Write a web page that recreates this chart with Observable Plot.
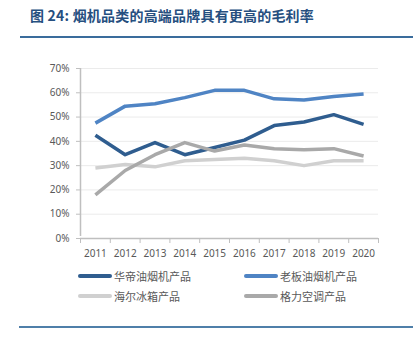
<!DOCTYPE html>
<html>
<head>
<meta charset="utf-8">
<script src="https://cdn.jsdelivr.net/npm/d3@7"></script>
<script src="https://cdn.jsdelivr.net/npm/@observablehq/plot@0.6"></script>
<style>
  html, body { margin: 0; padding: 0; background: #fff; }
  #wrap { position: relative; width: 420px; height: 353px; overflow: hidden; font-family: "Noto Sans CJK SC", "Noto Sans", sans-serif; }
  #title { position: absolute; left: 30px; top: 5px; font-size: 14px; font-weight: bold; color: #264f7f; white-space: nowrap; letter-spacing: 0.2px; }
  #rule1 { position: absolute; left: 20px; top: 36px; width: 393px; height: 2px; background: #3a6c9c; }
  #rule2 { position: absolute; left: 19px; top: 326px; width: 394px; height: 2px; background: #4f7fa9; }
  #chart { position: absolute; left: 0; top: 40px; }
  .leg { position: absolute; font-size: 11px; color: #595959; display: flex; align-items: center; white-space: nowrap; }
  .sw { display: inline-block; width: 34px; height: 4px; border-radius: 2px; margin-right: 2px; }
</style>
</head>
<body>
<div id="wrap">
  <div id="title">图 24: 烟机品类的高端品牌具有更高的毛利率</div>
  <div id="rule1"></div>
  <div id="chart"></div>
  <div id="legend"></div>
  <div id="rule2"></div>
</div>
<script>
const years = [2011, 2012, 2013, 2014, 2015, 2016, 2017, 2018, 2019, 2020];
const seriesNames = ["华帝油烟机产品", "老板油烟机产品", "海尔冰箱产品", "格力空调产品"];
const vatti = [42.5, 34.5, 39.5, 34.5, 37.5, 40.5, 46.5, 48, 51, 47];
const robam = [47.5, 54.5, 55.5, 58, 61, 61, 57.5, 57, 58.5, 59.5];
const haier = [29, 30.5, 29.5, 32, 32.5, 33, 32, 30, 32, 32];
const gree = [18, 28, 34.5, 39.5, 36, 38.5, 37, 36.5, 37, 34];
const yTicks = [0, 10, 20, 30, 40, 50, 60, 70];
const colors = ["#2f5d8f", "#4f84c4", "#d0d0d0", "#a9a9a9"];

const seriesValues = [vatti, robam, haier, gree];
const data = [];
seriesNames.forEach((name, i) => {
  years.forEach((yr, j) => data.push({series: name, year: yr, value: seriesValues[i][j]}));
});
const x0 = years[0] - 0.5, x1 = years[years.length - 1] + 0.5;
// category boundaries for bottom tick marks
const bounds = years.map(y => y - 0.5).concat([x1]);

const W = 420, H = 225;
const plot = Plot.plot({
  width: W,
  height: H,
  marginLeft: 80,
  marginRight: 42,
  marginTop: 28,
  marginBottom: 27,
  style: {fontFamily: "'Noto Sans', 'DejaVu Sans', sans-serif", fontSize: "10px", color: "#595959", background: "transparent"},
  x: {type: "linear", domain: [x0, x1], axis: null},
  y: {type: "linear", domain: [0, 70], axis: null},
  color: {domain: seriesNames, range: colors},
  marks: [
    Plot.ruleY(yTicks.filter(d => d > 0), {x1: x0, x2: x1, stroke: "#ebebeb", strokeWidth: 1}),
    // left axis
    Plot.ruleX([x0], {y1: 0, y2: 70, stroke: "#bfbfbf", strokeWidth: 1.5, insetTop: -2}),
    Plot.ruleY(yTicks, {x1: x0, x2: x0, stroke: "#bfbfbf", strokeWidth: 1, insetLeft: -4}),
    Plot.text(yTicks, {x: x0, y: d => d, text: d => d + "%", textAnchor: "end", dx: -11, fill: "#595959", fontSize: 10}),
    // bottom axis
    Plot.ruleY([0], {x1: x0, x2: x1, stroke: "#bfbfbf", strokeWidth: 1.5}),
    Plot.ruleX(bounds, {y1: 0, y2: 0, stroke: "#bfbfbf", strokeWidth: 1, insetBottom: -5}),
    Plot.text(years, {x: d => d, y: 0, text: d => String(d), dy: 15, fill: "#595959", fontSize: 10}),
    // series lines
    Plot.line(data, {x: "year", y: "value", z: "series", stroke: "series", strokeWidth: 3.5, strokeLinejoin: "round", strokeLinecap: "butt"})
  ]
});
document.getElementById("chart").appendChild(plot);

// legend
const legendPos = [[78, 276], [244, 276], [78, 296], [244, 296]];
const legend = document.getElementById("legend");
seriesNames.forEach((name, i) => {
  const d = document.createElement("div");
  d.className = "leg";
  d.style.left = legendPos[i][0] + "px";
  d.style.top = (legendPos[i][1] - 8) + "px";
  d.style.height = "16px";
  const s = document.createElement("span");
  s.className = "sw";
  s.style.background = colors[i];
  d.appendChild(s);
  d.appendChild(document.createTextNode(name));
  legend.appendChild(d);
});
</script>
</body>
</html>
